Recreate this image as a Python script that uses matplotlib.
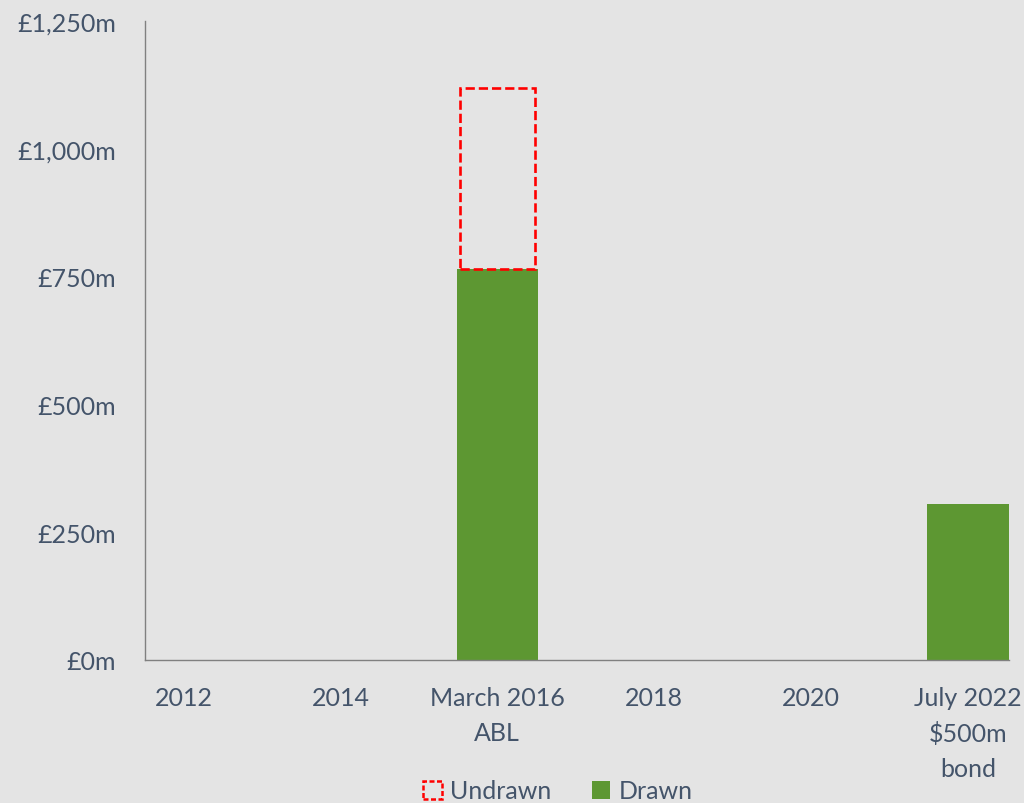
import matplotlib
matplotlib.use("Agg")
import matplotlib.pyplot as plt
from matplotlib.patches import Patch
from matplotlib.ticker import FuncFormatter

categories = ["2012", "2014", "March 2016\nABL", "2018", "2020", "July 2022\n$500m\nbond"]
drawn = [0, 0, 765, 0, 0, 305]
undrawn = [0, 0, 354, 0, 0, 0]
yticks = [0, 250, 500, 750, 1000, 1250]

BG = "#E4E4E4"
TXT = "#44546A"
GREEN = "#5D9732"
RED = "#FF0000"

plt.rcParams['font.family'] = ['Lato', 'DejaVu Sans']

fig = plt.figure(figsize=(10.24, 8.04), dpi=100, facecolor=BG)
ax = fig.add_axes([145/1024, 1-661/804, (1009-145)/1024, (661-22)/804])
ax.set_facecolor(BG)

x = list(range(len(categories)))
ax.bar(x, drawn, width=0.52, color=GREEN, edgecolor="none", zorder=2)

# only outline the undrawn part where there is one
ux = [i for i, v in zip(x, undrawn) if v > 0]
uh = [v for v in undrawn if v > 0]
ub = [d for d, v in zip(drawn, undrawn) if v > 0]
ax.bar(ux, uh, width=0.48, bottom=ub, fill=False, edgecolor=RED,
       linestyle=(0, (3.5, 1.5)), linewidth=1.9, zorder=3)

ax.set_xlim(-0.245, 5.26)
ax.set_ylim(0, 1250)
ax.set_yticks(yticks)
ax.yaxis.set_major_formatter(FuncFormatter(lambda v, p: f"£{int(v):,}m"))
ax.set_xticks(x)
ax.set_xticklabels(categories, linespacing=1.6)
ax.tick_params(length=0, labelsize=18, labelcolor=TXT)
ax.tick_params(axis='y', pad=21)
ax.tick_params(axis='x', pad=19)
for s in ("top", "right"):
    ax.spines[s].set_visible(False)
for s in ("left", "bottom"):
    ax.spines[s].set_color("#808080")
    ax.spines[s].set_linewidth(1.0)

handles = [Patch(facecolor="none", edgecolor=RED, linestyle=(0, (2, 1)), linewidth=1.8, label="Undrawn"),
           Patch(facecolor=GREEN, edgecolor="none", label="Drawn")]
fig.legend(handles=handles, loc="center", bbox_to_anchor=(0.545, 1-792/804), ncol=2,
           frameon=False, fontsize=18, labelcolor=TXT, handlelength=0.75, handleheight=0.75,
           handletextpad=0.35, columnspacing=1.6)

fig.savefig("out.png", dpi=100, facecolor=BG)
